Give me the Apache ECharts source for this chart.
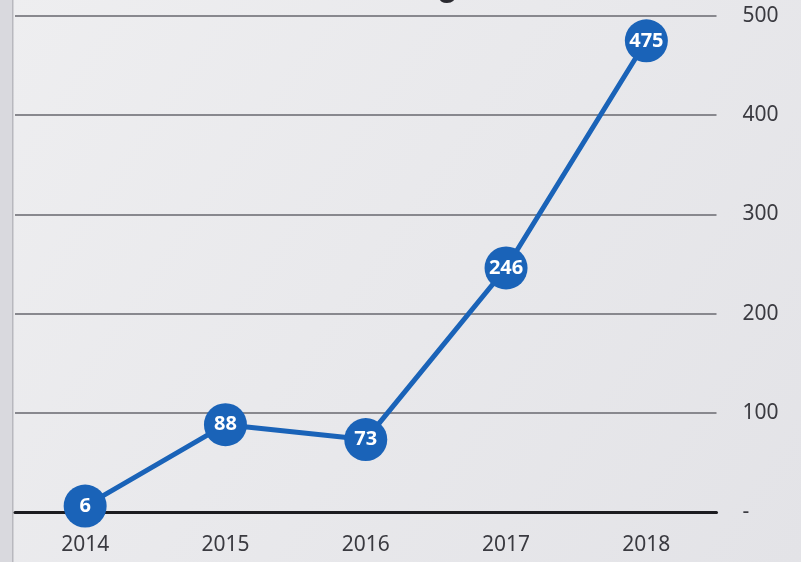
<!DOCTYPE html>
<html><head><meta charset="utf-8">
<script src="https://cdn.jsdelivr.net/npm/echarts@6/dist/echarts.min.js"></script>
<style>html,body{margin:0;padding:0;background:#e8e8eb;}#c{width:801px;height:562px;}</style>
</head><body><div id="c"></div>
<script>
const years = ['2014','2015','2016','2017','2018'];
const values = [6, 88, 73, 246, 475];
const yTicks = [0, 100, 200, 300, 400, 500];

const FONT = '"Noto Sans", "Open Sans", sans-serif';
const chart = echarts.init(document.getElementById('c'));
chart.setOption({
  animation: false,
  backgroundColor: {
    type: 'linear', x: 0, y: 0, x2: 1, y2: 1,
    colorStops: [{offset: 0, color: '#eeeef0'}, {offset: 1, color: '#e3e3e7'}]
  },
  graphic: [
    {type: 'rect', left: 0, top: 0, shape: {width: 13, height: 562}, style: {fill: '#d9d9de'}, z: -1},
    {type: 'rect', left: 12, top: 0, shape: {width: 1.5, height: 562}, style: {fill: '#b8b8be'}, z: -1},
    {type: 'text', left: 437, top: -30, style: {text: 'g', font: 'bold 34px "Liberation Sans", sans-serif', fill: '#2a2a30'}}
  ],
  grid: {left: 15, right: 84.5, top: 16, bottom: 50},
  xAxis: {
    type: 'category', data: years, boundaryGap: true,
    axisLine: {show: true, lineStyle: {color: '#1c1c20', width: 3}},
    axisTick: {show: false},
    axisLabel: {color: '#3a3a40', fontSize: 21, fontFamily: FONT, margin: 23}
  },
  yAxis: {
    type: 'value', position: 'right', min: yTicks[0], max: yTicks[yTicks.length - 1], interval: 100,
    axisLine: {show: false}, axisTick: {show: false},
    splitLine: {lineStyle: {color: '#88888e', width: 1.8}},
    axisLabel: {
      color: '#3a3a40', fontSize: 21, fontFamily: FONT, margin: 26,
      formatter: v => v === 0 ? '-' : String(v)
    }
  },
  series: [{
    type: 'line', data: values,
    symbol: 'circle', symbolSize: 43,
    lineStyle: {color: '#1a63b8', width: 5},
    itemStyle: {color: '#1a63b8', borderWidth: 0},
    label: {
      show: true, position: 'inside', color: '#ffffff',
      fontSize: 20, fontWeight: 'bold', fontFamily: FONT
    },
    z: 5
  }]
});
</script></body></html>
